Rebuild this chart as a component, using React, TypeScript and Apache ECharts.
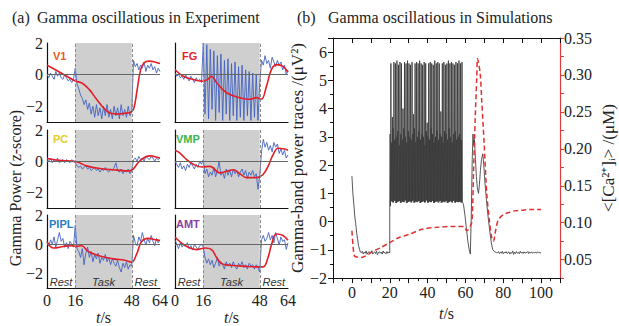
import React, { useEffect, useRef } from 'react';
import * as echarts from 'echarts';

const SERIF = "'Liberation Serif', 'Times New Roman', serif";
const SANS = "'Liberation Sans', Arial, sans-serif";

// ---------- (a) experiment panels ----------
const panelNames = ['V1', 'FG', 'PC', 'VMP', 'PIPL', 'AMT'];
const panelColors = ['#ee5a24', '#e8262a', '#e6cc2a', '#3cb54a', '#2a7dc4', '#8e3f9e'];
const timeTickLabels = [0, 16, 48, 64];
const taskStart = 16;
const taskEnd = 48;
const blueStep = 1; // seconds between samples of blue traces

const blueV1 = [
  0.0, -0.2, 0.1, -0.1, -0.3, 0.2, -0.1, 0.1, -0.2, -0.3, 0.0, -0.2, -0.4, -0.3, -0.5, -0.3,
  0.4,
  -0.6, -0.9, -1.3, -1.5, -1.9, -1.6, -2.2, -1.8, -2.5, -2.0, -2.7, -1.9, -2.6, -2.1, -2.8, -2.0,
  -2.6, -1.9, -2.7, -2.2, -2.8, -2.0, -2.6, -2.1, -2.8, -1.9, -2.6, -2.2, -2.7, -2.0, -2.6, -2.3,
  0.9, 0.5, 0.7, 0.3, 0.6, 0.4, 0.8, 0.2, 0.6, 0.4, 0.7, 0.3, 0.5, 0.1, 0.4, 0.2,
];
const blueFG = [
  0.1, -0.1, 0.0, -0.2, -0.1, -0.3, 0.0, -0.2, -0.4, -0.1, -0.3, -0.5, -0.2, -0.4, -0.3, -0.5,
  2.0,
  -2.5, 1.9, -2.8, 1.6, -2.2, 1.5, -2.9, 1.2, -2.4, 1.3, -2.9, 0.9, -2.5, 1.0, -2.9, 0.7,
  -2.6, 0.8, -2.9, 0.5, -2.7, 0.6, -2.9, 0.3, -2.6, 0.2, -2.9, 0.1, -2.7, 0.0, -2.9, -0.5,
  0.9, 0.6, 1.2, 0.7, 0.9, 0.4, 1.1, 0.8, 0.5, 0.9, 0.6, 0.8, 0.3, 0.6, 0.0, 0.3,
];
const bluePC = [
  0.1, 0.0, 0.2, -0.1, 0.1, 0.0, 0.2, -0.1, 0.0, 0.1, -0.1, 0.1, 0.0, -0.1, 0.1, 0.0,
  -0.1,
  -0.3, -0.4, -0.3, -0.5, -0.4, -0.3, -0.5, -0.4, -0.6, -0.5, -0.4, -0.6, -0.5, -0.7, -0.5, -0.6,
  -0.4, -0.6, -0.7, -0.5, -0.6, -0.4, -0.1, -0.6, -0.7, -0.5, -0.8, -0.6, -0.7, -0.5, -0.8, -0.6,
  0.1, 0.2, 0.0, 0.3, 0.1, 0.2, 0.0, 0.3, 0.2, 0.1, 0.3, 0.2, 0.0, 0.2, 0.1, 0.2,
];
const blueVMP = [
  0.0, -0.2, -0.4, -0.1, -0.5, -0.3, -0.6, -0.2, -0.4, -0.1, -0.3, -0.5, -0.2, -0.4, 0.0, -0.2,
  0.1,
  -0.8, -0.5, -1.0, -0.7, -0.9, -0.4, -1.0, -0.6, 0.0, -0.9, -0.7, -1.1, -0.5, -0.9, -0.6, -1.0,
  -0.5, -0.8, -0.6, -1.0, -0.7, -0.5, -0.9, -0.6, -1.1, -0.7, -0.9, -0.6, -1.0, -0.8, -1.8, -0.9,
  0.6, 1.4, 0.9, 1.2, 0.7, 1.0, 0.6, 1.2, 0.9, 1.1, 0.5, 0.8, 0.4, 0.7, 0.2, 0.4,
];
const bluePIPL = [
  0.2, -0.1, 0.3, 0.0, 0.5, -0.2, 0.3, 0.8, 0.2, 0.4, -0.2, 0.1, -0.3, 0.2, 0.0, -0.2,
  1.3,
  -0.3, -0.5, -0.9, -0.3, -1.4, -0.6, -0.2, -0.9, -0.5, -1.2, -0.7, -1.0, -0.6, -1.3, -0.9, -1.1,
  -0.7, -1.2, -0.9, -1.4, -1.0, -1.3, -1.5, -1.1, -1.6, -1.9, -1.3, -1.6, -1.2, -1.7, -1.4, -1.5,
  0.6, 0.1, -0.1, 0.5, 0.2, 0.8, 0.3, -0.05, 0.4, 0.1, 0.6, 0.2, -0.1, 0.4, 0.1, 0.3,
];
const blueAMT = [
  0.3, 0.0, -0.3, 0.1, -0.2, 0.0, -0.1, 0.1, -0.3, -0.1, -0.4, 0.0, -0.2, -0.35, -0.1, 0.0,
  -0.2,
  -0.9, -1.3, -1.0, -1.4, -1.1, -1.6, -1.3, -0.9, -1.5, -1.2, -1.4, -1.7, -1.2, -1.5, -1.3, -1.6,
  -1.2, -1.5, -1.7, -1.3, -1.5, -1.2, -1.6, -1.4, -1.7, -1.3, -1.5, -1.4, -1.7, -1.4, -1.6, -1.9,
  0.3, 0.6, 0.2, 0.4, 0.8, 0.3, 0.6, 0.1, 0.8, 0.4, -0.05, 0.5, 0.2, 0.3, -0.35, 0.1,
];

const redV1 = [
  [0, 0.6], [4, 0.35], [8, 0.1], [12, -0.15], [16, -0.4], [20, -0.55], [24, -0.95], [28, -1.55],
  [32, -2.1], [36, -2.45], [40, -2.5], [44, -2.45], [47, -2.4], [49, -2.2], [51, -1.0], [53, 0.3],
  [55, 0.75], [58, 0.85], [61, 0.8], [64, 0.7],
];
const redFG = [
  [0, 0.31], [4.7, -0.1], [10.4, -0.31], [16, -0.42], [18.5, -0.3], [20.7, -0.1], [23.6, -0.52],
  [29.2, -1.15], [36.7, -1.46], [42.4, -1.56], [46, -1.46], [48.9, -1.56], [51.8, -0.73],
  [54.6, 0.31], [57.4, 0.63], [61.2, 0.52], [64, 0.15],
];
const redPC = [
  [0, 0.17], [5, 0.08], [11.2, 0.02], [16.8, -0.04], [22.4, -0.3], [30, -0.47], [39.4, -0.57],
  [46.9, -0.62], [48.8, -0.51], [52.6, 0.02], [58.2, 0.34], [62.9, 0.24], [64, 0.2],
];
const redVMP = [
  [0, 0.7], [2.8, 0.52], [6.6, 0.1], [10.4, -0.2], [15, -0.37], [19.8, -0.33], [25.4, -0.75],
  [29.2, -0.65], [33, -0.55], [36.7, -0.8], [40.5, -1.05], [46.2, -1.05], [49.9, -0.85],
  [52.7, -0.33], [55.5, 0.4], [58.4, 0.83], [62.1, 0.78], [64, 0.7],
];
const redPIPL = [
  [0, 0.17], [3.7, -0.26], [9.4, -0.15], [13, -0.1], [16.8, -0.15], [19.6, -0.1], [23.4, -0.5],
  [30, -0.8], [37.5, -1.0], [44.1, -1.1], [47.8, -1.23], [50.7, -0.7], [53.5, 0.17], [57.3, 0.4],
  [62, 0.3], [64, 0.25],
];
const redAMT = [
  [0, 0.5], [2.8, 0.17], [6.6, -0.15], [12.2, -0.37], [17, -0.26], [20.7, -0.37], [23.5, -0.9],
  [26.4, -1.33], [31, -1.44], [38.6, -1.5], [46.1, -1.55], [49.9, -1.55], [52.7, -0.9],
  [54.6, -0.05], [57.4, 0.7], [61.2, 0.6], [64, 0.28],
];

const blueTraces = [blueV1, blueFG, bluePC, blueVMP, bluePIPL, blueAMT];
const redTraces = [redV1, redFG, redPC, redVMP, redPIPL, redAMT];

// ---------- (b) simulation panel ----------
const simRamp = [
  [0, 1.61], [0.5, 1.0], [1, 0.63], [1.5, 0.2], [2, -0.06], [2.5, -0.4], [3, -0.63], [3.5, -0.85],
  [4, -0.98], [4.5, -1.08],
];
const simPreStart = 5;
const simStep = 0.5;
const simPreNoise = [
  -1.1, -1.05, -1.15, -1.08, -1.12, -1.04, -1.16, -1.1, -1.06, -1.14, -1.09, -1.03, -1.15, -1.1,
  -1.07, -1.13, -1.05, -1.17, -1.1, -1.06, -1.12, -1.08, -1.15, -1.04, -1.11, -1.09, -1.14, -1.06,
  -1.12, -1.08, -1.1,
];
const burstStart = 20;
const burstSubStep = 0.2;
const simBurstPeaks = [
  5.6, 3.7, 5.65, 5.6, 5.7, 5.55, 5.65, 5.6, 4.0, 5.65, 5.6, 5.7, 5.6, 5.55, 5.65, 3.8,
  5.6, 5.65, 5.6, 5.7, 5.6, 5.55, 5.65, 5.6, 3.5, 5.6, 5.65, 5.6, 5.55, 5.7, 5.6, 5.65,
  5.6, 3.9, 5.6, 5.65, 5.55, 5.6, 5.7, 5.6, 5.65, 5.6, 5.55, 5.65, 5.6, 5.7, 5.6, 5.65,
];
const simBurstMids = [
  3.1, 2.8, 3.3, 2.9, 3.0, 3.2, 2.7, 3.1, 2.9, 3.3, 3.0, 2.8, 3.2, 3.0, 2.9, 3.1,
  3.3, 2.8, 3.0, 3.2, 2.9, 3.1, 3.0, 2.7, 3.2, 3.0, 2.9, 3.3, 3.1, 2.8, 3.0, 3.2,
  2.9, 3.1, 3.0, 2.8, 3.2, 3.1, 2.9, 3.3, 3.0, 2.8, 3.1, 3.2, 2.9, 3.0, 3.1, 2.9,
];
const simBurstTroughs = [
  0.55, 0.72, 0.68, 0.74, 0.66, 0.7, 0.73, 0.67, 0.71, 0.69, 0.75, 0.66, 0.7, 0.72, 0.68, 0.74,
  0.67, 0.71, 0.69, 0.73, 0.66, 0.7, 0.72, 0.68, 0.75, 0.67, 0.71, 0.69, 0.73, 0.66, 0.7, 0.72,
  0.68, 0.74, 0.67, 0.71, 0.69, 0.73, 0.66, 0.7, 0.72, 0.68, 0.74, 0.67, 0.71, 0.69, 0.7, 0.68,
];
const simTransient = [
  [58.4, 0.7], [59, 0.6], [59.8, 0.2], [60.6, -0.3], [61.3, -0.7], [62, -1.0], [62.6, -1.15],
  [63.1, 0.2], [63.6, 2.2], [64, 3.1], [64.4, 2.7], [64.8, 2.9], [65.3, 2.2], [65.8, 1.6],
  [66.3, 1.2], [66.9, 1.0], [67.4, 1.3], [67.9, 1.8], [68.5, 2.2], [69.2, 2.4], [69.7, 2.0],
  [70.3, 1.4], [70.8, 1.0], [71.3, 0.63], [72.1, 0.1], [73, -0.4], [73.7, -0.75], [74.4, -0.98],
  [75.3, -1.06], [76.5, -1.1],
];
const simTailStart = 77;
const simTailNoise = [
  -1.1, -1.06, -1.13, -1.08, -1.12, -1.05, -1.14, -1.09, -1.11, -1.06, -1.13, -1.1, -1.07, -1.15,
  -1.09, -1.12, -1.04, -1.16, -1.08, -1.13, -1.06, -1.12, -1.09, -1.14, -1.05, -1.11, -1.08, -1.13,
  -1.07, -1.12, -1.09, -1.1, -1.06, -1.13, -1.08, -1.11, -1.07, -1.12, -1.09, -1.1, -1.08, -1.12,
  -1.07, -1.1, -1.09, -1.11, -1.1,
];
const caTrace = [
  [0, 0.089], [0.6, 0.068], [1.2, 0.056], [2, 0.054], [5, 0.053], [8, 0.056], [11, 0.061],
  [15, 0.066], [20, 0.073], [25, 0.08], [30, 0.084], [37, 0.091], [46, 0.094], [55, 0.095],
  [59, 0.095], [60.8, 0.089], [62.5, 0.095], [63.5, 0.102], [64.3, 0.17], [65.2, 0.243],
  [66, 0.297], [66.4, 0.322], [67.8, 0.302], [68.6, 0.266], [69.9, 0.207], [71.3, 0.139],
  [72.7, 0.102], [73.9, 0.08], [74.8, 0.075], [76, 0.09], [77.4, 0.104], [80, 0.111],
  [83, 0.114], [86, 0.116], [90, 0.117], [95, 0.118], [100, 0.118],
];
const simXLabels = [0, 20, 40, 60, 80, 100];

function buildSimTrace(): number[][] {
  const out: number[][] = [];
  simRamp.forEach((p) => out.push(p));
  simPreNoise.forEach((v, k) => out.push([simPreStart + k * simStep, v]));
  simBurstPeaks.forEach((pk, i) => {
    const t0 = burstStart + i * 4 * burstSubStep;
    out.push([t0, simBurstTroughs[i]]);
    out.push([t0 + burstSubStep, simBurstMids[i]]);
    out.push([t0 + 2 * burstSubStep, simBurstTroughs[i]]);
    out.push([t0 + 3 * burstSubStep, pk]);
  });
  simTransient.forEach((p) => out.push(p));
  simTailNoise.forEach((v, k) => out.push([simTailStart + k * simStep, v]));
  return out;
}

function buildOption(): any {
  const lefts = [47, 175];
  const tops = [43, 130, 215];
  const heights = [79, 78, 78];
  const width = 113;
  const grids: any[] = [];
  const xAxes: any[] = [];
  const yAxes: any[] = [];
  const series: any[] = [];
  const graphics: any[] = [];

  const labelPos = [
    [53, 50], [182, 50], [53, 133], [176, 133], [49, 218], [176, 218],
  ];

  for (let i = 0; i < 6; i++) {
    const col = i % 2;
    const row = Math.floor(i / 2);
    const bottomRow = row === 2;
    grids.push({ left: lefts[col], top: tops[row], width, height: heights[row] });
    xAxes.push({
      type: 'value', gridIndex: i, min: 0, max: 64, interval: 16,
      axisLine: { show: true, onZero: false, lineStyle: { color: '#111', width: 1.2 } },
      axisTick: { show: false },
      splitLine: { show: false },
      axisLabel: {
        show: bottomRow, margin: 4,
        formatter: (v: number) => (timeTickLabels.includes(v) ? String(v) : ''),
        fontFamily: SERIF, fontSize: 16, color: '#222',
      },
      name: bottomRow ? '{i|t}/s' : '',
      nameLocation: 'middle', nameGap: 15,
      nameTextStyle: {
        fontFamily: SERIF, fontSize: 16, color: '#222',
        rich: { i: { fontStyle: 'italic', fontFamily: SERIF, fontSize: 16, color: '#222' } },
      },
    });
    yAxes.push({
      type: 'value', gridIndex: i, min: -3, max: 2, interval: 1,
      axisLine: { show: true, onZero: false, lineStyle: { color: '#111', width: 1.2 } },
      axisTick: { show: false },
      splitLine: { show: false },
      axisLabel: {
        show: col === 0, margin: 4,
        formatter: (v: number) => (v === 2 ? '2' : v === 0 ? '0' : v === -2 ? '\u22122' : ''),
        fontFamily: SERIF, fontSize: 16, color: '#222',
      },
    });
    const markAreaData: any[] = [
      [{ xAxis: taskStart, itemStyle: { color: '#cfcfcf' }, label: { show: bottomRow, formatter: 'Task' } }, { xAxis: taskEnd }],
    ];
    if (bottomRow) {
      markAreaData.push([{ xAxis: 0, itemStyle: { color: 'rgba(0,0,0,0)' }, label: { show: true, formatter: 'Rest' } }, { xAxis: taskStart }]);
      markAreaData.push([{ xAxis: taskEnd, itemStyle: { color: 'rgba(0,0,0,0)' }, label: { show: true, formatter: 'Rest' } }, { xAxis: 64 }]);
    }
    series.push({
      type: 'line', xAxisIndex: i, yAxisIndex: i,
      data: blueTraces[i].map((v, k) => [k * blueStep, v]),
      showSymbol: false, symbol: 'none',
      lineStyle: { color: '#4262c2', width: 0.9 },
      z: 3,
      markArea: {
        silent: true,
        label: { position: 'insideBottom', distance: 1, fontFamily: SANS, fontStyle: 'italic', fontSize: 11, color: '#333' },
        data: markAreaData,
      },
      markLine: {
        silent: true, symbol: 'none',
        label: { show: false },
        data: [
          { xAxis: taskStart, lineStyle: { color: '#888', type: [3, 2], width: 1 } },
          { xAxis: taskEnd, lineStyle: { color: '#888', type: [3, 2], width: 1 } },
          { yAxis: 0, lineStyle: { color: '#666', type: 'solid', width: 1 } },
        ],
      },
    });
    series.push({
      type: 'line', xAxisIndex: i, yAxisIndex: i,
      data: redTraces[i], smooth: 0.4,
      showSymbol: false, symbol: 'none',
      lineStyle: { color: '#e41e26', width: 1.6 },
      z: 4,
    });
    graphics.push({
      type: 'text', x: labelPos[i][0], y: labelPos[i][1],
      style: { text: panelNames[i], fill: panelColors[i], font: `bold 11px ${SANS}` },
    });
  }

  // simulation grid
  grids.push({ left: 333, top: 38, width: 227, height: 245 });
  xAxes.push({
    type: 'value', gridIndex: 6, min: -10, max: 110, interval: 10, position: 'bottom',
    axisLine: { show: true, onZero: false, lineStyle: { color: '#111', width: 1 } },
    axisTick: { show: true, inside: false, length: 5, lineStyle: { color: '#111' } },
    minorTick: { show: true, splitNumber: 2, length: 3, lineStyle: { color: '#111' } },
    splitLine: { show: false },
    axisLabel: {
      margin: 6,
      formatter: (v: number) => (simXLabels.includes(v) ? String(v) : ''),
      fontFamily: SERIF, fontSize: 16, color: '#222',
    },
    name: '{i|t}/s', nameLocation: 'middle', nameGap: 23,
    nameTextStyle: {
      fontFamily: SERIF, fontSize: 16, color: '#222',
      rich: { i: { fontStyle: 'italic', fontFamily: SERIF, fontSize: 16, color: '#222' } },
    },
  });
  xAxes.push({
    type: 'value', gridIndex: 6, min: -10, max: 110, interval: 10, position: 'top',
    axisLine: { show: true, onZero: false, lineStyle: { color: '#111', width: 1 } },
    axisTick: { show: true, inside: true, length: 5, lineStyle: { color: '#111' } },
    axisLabel: { show: false },
    splitLine: { show: false },
  });
  yAxes.push({
    type: 'value', gridIndex: 6, min: -2, max: 6.5, interval: 1, position: 'left',
    axisLine: { show: true, onZero: false, lineStyle: { color: '#111', width: 1 } },
    axisTick: { show: true, inside: false, length: 5, lineStyle: { color: '#111' } },
    minorTick: { show: true, splitNumber: 2, length: 3, lineStyle: { color: '#111' } },
    splitLine: { show: false },
    axisLabel: {
      margin: 6,
      formatter: (v: number) => (Number.isInteger(v) ? (v < 0 ? '\u2212' + Math.abs(v) : String(v)) : ''),
      fontFamily: SERIF, fontSize: 16, color: '#222',
    },
    name: 'Gamma-band power traces /(\u03bcV\u00b2)', nameLocation: 'middle', nameGap: 17,
    nameTextStyle: { fontFamily: SERIF, fontSize: 17, color: '#222' },
  });
  yAxes.push({
    type: 'value', gridIndex: 6, min: 0.025, max: 0.35, interval: 0.025, position: 'right',
    axisLine: { show: true, onZero: false, lineStyle: { color: '#e03a3a', width: 1.2 } },
    axisTick: { show: true, inside: false, length: 4, lineStyle: { color: '#e03a3a' } },
    splitLine: { show: false },
    axisLabel: {
      margin: 4,
      formatter: (v: number) => {
        const m = Math.round(v * 1000);
        return m % 50 === 0 ? (m / 1000).toFixed(2) : '';
      },
      fontFamily: SERIF, fontSize: 16, color: '#222',
    },
    name: '<[Ca\u00b2\u207a]\u1d62> /(\u03bcM)', nameLocation: 'middle', nameGap: 40, nameRotate: 90,
    nameTextStyle: { fontFamily: SERIF, fontSize: 17, color: '#222' },
  });
  series.push({
    type: 'line', xAxisIndex: 6, yAxisIndex: 6,
    data: buildSimTrace(), showSymbol: false, symbol: 'none',
    lineStyle: { color: '#3a3a3a', width: 0.85 },
    z: 3,
  });
  series.push({
    type: 'line', xAxisIndex: 6, yAxisIndex: 7,
    data: caTrace, showSymbol: false, symbol: 'none', smooth: 0.3,
    lineStyle: { color: '#e03030', width: 1.5, type: [5, 3] },
    z: 4,
  });

  graphics.push(
    { type: 'text', x: 12, y: 9, style: { text: '(a)', fill: '#222', font: `16px ${SERIF}` } },
    { type: 'text', x: 37, y: 9, style: { text: 'Gamma oscillatious in Experiment', fill: '#222', font: `16px ${SERIF}` } },
    { type: 'text', x: 297, y: 9, style: { text: '(b)', fill: '#222', font: `16px ${SERIF}` } },
    { type: 'text', x: 328, y: 9, style: { text: 'Gamma oscillatious in Simulations', fill: '#222', font: `16px ${SERIF}` } },
    {
      type: 'text', x: 15, y: 188, rotation: Math.PI / 2,
      style: { text: 'Gamma Power (z-score)', fill: '#222', font: `16px ${SERIF}`, align: 'center', verticalAlign: 'middle' },
    },
  );

  return {
    animation: false,
    backgroundColor: '#ffffff',
    grid: grids,
    xAxis: xAxes,
    yAxis: yAxes,
    series,
    graphic: graphics,
  };
}

export default function App() {
  const ref = useRef<HTMLDivElement>(null);
  useEffect(() => {
    const chart = echarts.init(ref.current!, null, { renderer: 'svg' });
    chart.setOption(buildOption());
    return () => chart.dispose();
  }, []);
  return <div ref={ref} style={{ position: 'absolute', left: 0, top: 0, width: 619, height: 326 }} />;
}
